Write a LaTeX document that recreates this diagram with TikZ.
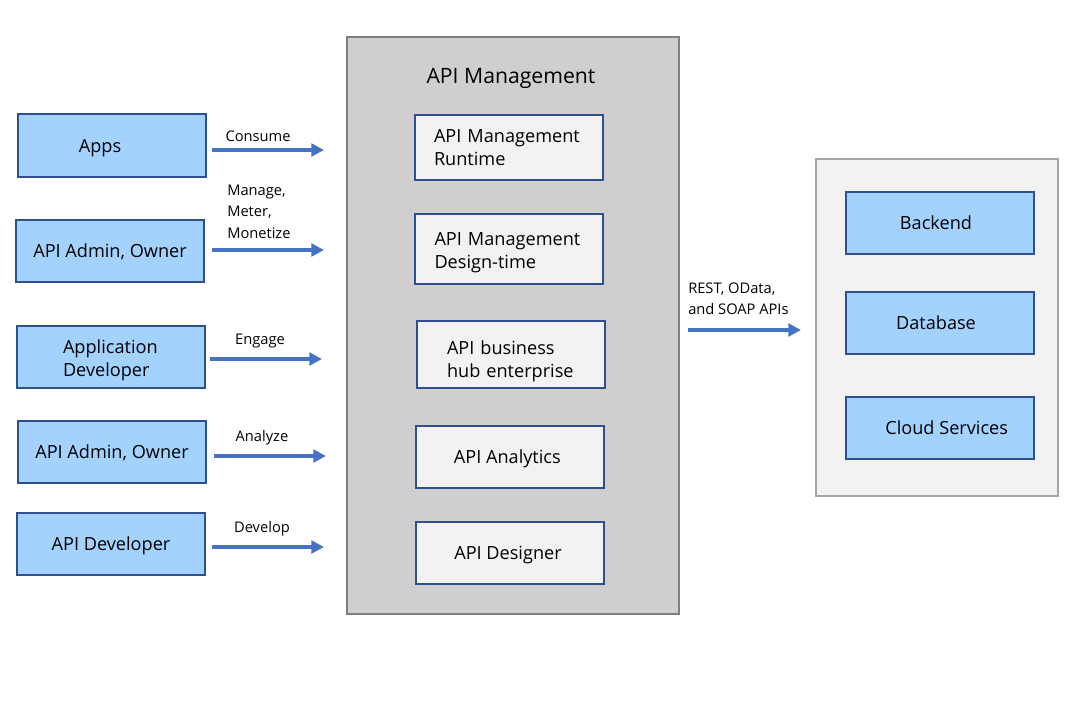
\documentclass[tikz,border=0pt]{standalone}
\usepackage{fontspec}
\setmainfont{Open Sans}
\usetikzlibrary{arrows.meta}
\definecolor{boxblue}{HTML}{A4D2FF}
\definecolor{edgeblue}{HTML}{2F4F8F}
\definecolor{arrowblue}{HTML}{4472C4}
\definecolor{mgmtgray}{HTML}{D0CECE}
\definecolor{mgmtedge}{HTML}{7F7F7F}
\definecolor{paleg}{HTML}{F2F2F2}
\definecolor{paleedge}{HTML}{A6A6A6}
\tikzset{
  actor/.style={draw=edgeblue, line width=1.5pt, fill=boxblue, minimum width=141pt,
    minimum height=46.5pt, inner sep=0pt, align=center, text depth=0pt,
    font=\fontsize{13.6}{17.5}\selectfont},
  actortwo/.style={draw=edgeblue, line width=1.5pt, fill=boxblue, minimum width=141pt,
    minimum height=46.5pt, inner ysep=0pt, align=left,
    font=\fontsize{13.6}{17.5}\selectfont},
  module/.style={draw=edgeblue, line width=1.5pt, fill=paleg, minimum width=141pt,
    minimum height=46.5pt, inner ysep=0pt, align=left,
    font=\fontsize{13.6}{17.5}\selectfont},
  modcenter/.style={module, inner sep=0pt, align=center, text depth=0pt},
  flowlabel/.style={inner sep=0pt, align=left, font=\fontsize{11}{16}\selectfont},
  flow/.style={draw=arrowblue, line width=2.4pt, -{Triangle[length=9.5pt,width=9.5pt]}},
}
\begin{document}
\begin{tikzpicture}[x=0.75pt,y=-0.75pt]
\useasboundingbox (0,0) rectangle (1068,707);
\fill[white] (0,0) rectangle (1068,707);

% containers
\node[draw=mgmtedge, line width=1.5pt, fill=mgmtgray, inner sep=0pt,
  minimum width=249pt, minimum height=432.75pt] (mgmt) at (513,325.5) {};
\node[font=\fontsize{15.9}{19}\selectfont, inner sep=0pt, text depth=0pt] (mgmttitle) at (511,76) {API Management};
\node[draw=paleedge, line width=0.8pt, fill=paleg, inner sep=0pt,
  minimum width=181.5pt, minimum height=252.75pt] (backends) at (937,327.5) {};

% left actors
\node[actor, minimum height=47.25pt, text depth=-2pt] (apps) at (112,145.5) {Apps\hspace{18pt}};
\node[actor] (admin1) at (110,251) {API Admin, Owner};
\node[actortwo, text width=72pt, inner xsep=34.5pt, text depth=16.3pt] (appdev) at (111,357) {Application\\Developer};
\node[actor] (admin2) at (112,452) {API Admin, Owner};
\node[actor] (apidev) at (111,544) {API Developer};

% modules
\node[module, minimum height=48.75pt, text width=112.5pt, inner xsep=14.25pt] (runtime) at (509,147.5)
  {API Management\\Runtime};
\node[module, minimum height=52.5pt, text width=111.75pt, inner xsep=14.625pt, text depth=14.8pt] (design) at (509,249)
  {API Management\\Design-time};
\node[module, minimum height=50.25pt, text width=96pt, inner xsep=22.5pt, text depth=10.3pt] (hub) at (511,354.5)
  {API business\\hub enterprise};
\node[modcenter] (analytics) at (510,457) {API Analytics\hspace{4pt}};
\node[modcenter] (designer) at (510,553) {API Designer\hspace{3pt}};

% backends
\node[actor] (backend) at (940,223) {Backend\hspace{6pt}};
\node[actor] (database) at (940,323) {Database\hspace{6pt}};
\node[actor] (cloud) at (940,428) {\hspace{10pt}Cloud Services};

% arrow end points
\coordinate (c1s) at (212,150); \coordinate (c1e) at (324,150);
\coordinate (c2s) at (212,250); \coordinate (c2e) at (324,250);
\coordinate (c3s) at (210,359); \coordinate (c3e) at (322,359);
\coordinate (c4s) at (214,456); \coordinate (c4e) at (326,456);
\coordinate (c5s) at (212,547); \coordinate (c5e) at (324,547);
\coordinate (c6s) at (688,330); \coordinate (c6e) at (801,330);

\draw[flow] (c1s) -- (c1e);
\draw[flow] (c2s) -- (c2e);
\draw[flow] (c3s) -- (c3e);
\draw[flow] (c4s) -- (c4e);
\draw[flow] (c5s) -- (c5e);
\draw[flow] (c6s) -- (c6e);

\node[flowlabel] (l1) at (258,136) {Consume};
\node[flowlabel, anchor=west] (l2) at (227,211.5) {Manage,\\Meter,\\Monetize};
\node[flowlabel] (l3) at (260,341) {Engage};
\node[flowlabel] (l4) at (262,438) {Analyze};
\node[flowlabel] (l5) at (262,529) {Develop};
\node[flowlabel, anchor=west] (l6) at (688,299) {REST, OData,\\and SOAP APIs};
\end{tikzpicture}
\end{document}
